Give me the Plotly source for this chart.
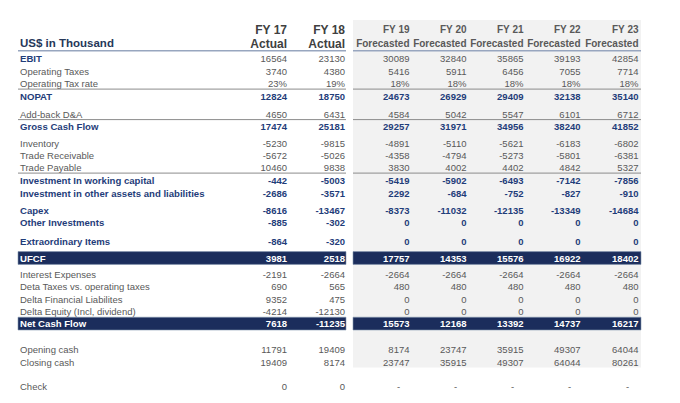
import plotly.graph_objects as go

# ---------------- data ----------------
years = ["FY 17", "FY 18", "FY 19", "FY 20", "FY 21", "FY 22", "FY 23"]
scenarios = ["Actual", "Actual", "Forecasted", "Forecasted", "Forecasted", "Forecasted", "Forecasted"]
unit_label = "US$ in Thousand"

row_labels = [
    "EBIT", "Operating Taxes", "Operating Tax rate", "NOPAT", "Add-back D&A", "Gross Cash Flow",
    "Inventory", "Trade Receivable", "Trade Payable", "Investment In working capital",
    "Investment in other assets and liabilities", "Capex", "Other Investments", "Extraordinary Items",
    "UFCF", "Interest Expenses", "Deta Taxes vs. operating taxes", "Delta Financial Liabilites",
    "Delta Equity (Incl, dividend)", "Net Cash Flow", "Opening cash", "Closing cash", "Check",
]

fy17 = [16564, 3740, 0.23, 12824, 4650, 17474, -5230, -5672, 10460, -442, -2686, -8616, -885, -864,
        3981, -2191, 690, 9352, -4214, 7618, 11791, 19409, 0]
fy18 = [23130, 4380, 0.19, 18750, 6431, 25181, -9815, -5026, 9838, -5003, -3571, -13467, -302, -320,
        2518, -2664, 565, 475, -12130, -11235, 19409, 8174, 0]
fy19 = [30089, 5416, 0.18, 24673, 4584, 29257, -4891, -4358, 3830, -5419, 2292, -8373, 0, 0,
        17757, -2664, 480, 0, 0, 15573, 8174, 23747, 0]
fy20 = [32840, 5911, 0.18, 26929, 5042, 31971, -5110, -4794, 4002, -5902, -684, -11032, 0, 0,
        14353, -2664, 480, 0, 0, 12168, 23747, 35915, 0]
fy21 = [35865, 6456, 0.18, 29409, 5547, 34956, -5621, -5273, 4402, -6493, -752, -12135, 0, 0,
        15576, -2664, 480, 0, 0, 13392, 35915, 49307, 0]
fy22 = [39193, 7055, 0.18, 32138, 6101, 38240, -6183, -5801, 4842, -7142, -827, -13349, 0, 0,
        16922, -2664, 480, 0, 0, 14737, 49307, 64044, 0]
fy23 = [42854, 7714, 0.18, 35140, 6712, 41852, -6802, -6381, 5327, -7856, -910, -14684, 0, 0,
        18402, -2664, 480, 0, 0, 16217, 64044, 80261, 0]
columns = [fy17, fy18, fy19, fy20, fy21, fy22, fy23]

# ---------------- layout / style ----------------
W, H = 680, 403
PAGE_MARGIN = 8  # default body margin of the html page; shift the coordinate frame to compensate
FONT = "Liberation Sans, Arial, sans-serif"
GREY_TXT = "#595959"
HEAD_TXT = "#404040"
BLUE_TXT = "#1f3d7a"
BAND = "#1b2d5c"
BG_FORECAST = "#f2f2f2"
TEXT_DY = 1.5  # nudge so glyphs sit visually centred on the row line

label_x = 20
col_right = [287, 345, 409.5, 466.5, 523.5, 580.5, 638.5]
row_y = [57.7, 70.8, 83.2, 96.3, 113.7, 126.5, 143.3, 155.3, 167.2, 180.5, 193.3, 210.0, 222.3, 241.0,
         258.0, 274.3, 286.6, 298.7, 311.0, 323.6, 349.3, 361.7, 386.0]
text_y = [y + TEXT_DY for y in row_y]

blue_label_rows = {"EBIT", "NOPAT", "Gross Cash Flow", "Investment In working capital",
                   "Investment in other assets and liabilities", "Capex", "Other Investments",
                   "Extraordinary Items"}
blue_value_rows = blue_label_rows - {"EBIT"}
band_rows = {"UFCF", "Net Cash Flow"}
underline_after = {"Operating Tax rate", "Add-back D&A", "Trade Payable"}

left_span = (18, 346)
right_span = (353, 641)


def fmt(label, v, scen):
    if label == "Operating Tax rate":
        return f"{v:.0%}"
    if label == "Check" and scen == "Forecasted" and v == 0:
        return "-"
    return f"{int(v)}"


fig = go.Figure()

# ---- shapes: forecast background, bands, rules ----
shapes = [dict(type="rect", xref="x", yref="y", x0=right_span[0], x1=right_span[1], y0=20, y1=367.5,
               fillcolor=BG_FORECAST, line=dict(width=0), layer="below")]
for lab, y in zip(row_labels, row_y):
    if lab in band_rows:
        for x0, x1 in (left_span, right_span):
            shapes.append(dict(type="rect", xref="x", yref="y", x0=x0, x1=x1, y0=y - 6.4, y1=y + 6.4,
                               fillcolor=BAND, line=dict(color="#8497b0", width=0.6), layer="below"))
    if lab in underline_after:
        for x0, x1 in (left_span, right_span):
            shapes.append(dict(type="line", xref="x", yref="y", x0=x0, x1=x1, y0=y + 5.9, y1=y + 5.9,
                               line=dict(color="#8c8c8c", width=1), layer="below"))
for x0, x1 in (left_span, right_span):
    shapes.append(dict(type="line", xref="x", yref="y", x0=x0, x1=x1, y0=50.8, y1=50.8,
                       line=dict(color="#98a6bf", width=1.6), layer="below"))

# ---- row labels ----
lab_text, lab_col, lab_size = [], [], []
for lab in row_labels:
    if lab in band_rows:
        lab_text.append(f"<b>{lab}</b>"); lab_col.append("white"); lab_size.append(9.6)
    elif lab in blue_label_rows:
        lab_text.append(f"<b>{lab}</b>"); lab_col.append(BLUE_TXT); lab_size.append(9.6)
    else:
        lab_text.append(lab); lab_col.append(GREY_TXT); lab_size.append(9.5)
fig.add_trace(go.Scatter(x=[label_x] * len(row_labels), y=text_y, mode="text", text=lab_text,
                         textposition="middle right",
                         textfont=dict(family=FONT, color=lab_col, size=lab_size),
                         cliponaxis=False, hoverinfo="skip"))

# ---- values ----
for ci, (vals, scen) in enumerate(zip(columns, scenarios)):
    xs, txt, col, pos = [], [], [], []
    for lab, v in zip(row_labels, vals):
        s = fmt(lab, v, scen)
        if s == "-":
            xs.append(col_right[ci] - 11); pos.append("middle center")
        else:
            xs.append(col_right[ci]); pos.append("middle left")
        if lab in band_rows:
            txt.append(f"<b>{s}</b>"); col.append("white")
        elif lab in blue_value_rows:
            txt.append(f"<b>{s}</b>"); col.append(BLUE_TXT)
        else:
            txt.append(s); col.append(GREY_TXT)
    fig.add_trace(go.Scatter(x=xs, y=text_y, mode="text", text=txt, textposition=pos,
                             textfont=dict(family=FONT, color=col, size=9.5),
                             cliponaxis=False, hoverinfo="skip"))

# ---- headers ----
for ci, (yr, scen) in enumerate(zip(years, scenarios)):
    actual = scen == "Actual"
    fig.add_trace(go.Scatter(
        x=[col_right[ci], col_right[ci]], y=[29.0 + TEXT_DY, 43.0 + TEXT_DY], mode="text",
        text=[f"<b>{yr}</b>", f"<b>{scen}</b>"], textposition="middle left",
        textfont=dict(family=FONT, color=HEAD_TXT if actual else GREY_TXT,
                      size=[12, 12] if actual else [10, 10]),
        cliponaxis=False, hoverinfo="skip"))
fig.add_trace(go.Scatter(x=[label_x], y=[43.0 + TEXT_DY], mode="text", text=[f"<b>{unit_label}</b>"],
                         textposition="middle right",
                         textfont=dict(family=FONT, color="#263859", size=11.5),
                         cliponaxis=False, hoverinfo="skip"))

fig.update_layout(
    width=W, height=H, margin=dict(l=0, r=0, t=0, b=0),
    paper_bgcolor="white", plot_bgcolor="white", showlegend=False,
    shapes=shapes,
    xaxis=dict(range=[PAGE_MARGIN, W + PAGE_MARGIN], visible=False, fixedrange=True),
    yaxis=dict(range=[H + PAGE_MARGIN, PAGE_MARGIN], visible=False, fixedrange=True),
)
fig.write_html("out.html")
